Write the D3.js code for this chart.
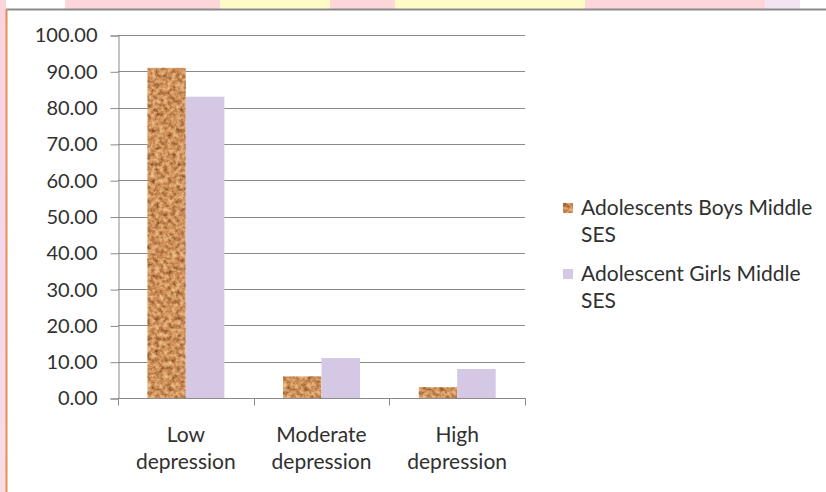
<!DOCTYPE html>
<html>
<head>
<meta charset="utf-8">
<script src="https://cdn.jsdelivr.net/npm/d3@7"></script>
<style>
  html, body { margin: 0; padding: 0; background: #ffffff; }
  svg { display: block; }
  text { font-family: Lato, "Open Sans", sans-serif; fill: #303030; }
</style>
</head>
<body>
<svg id="chart" width="826" height="492"></svg>
<script>
// Data
const categories = [["Low", "depression"], ["Moderate", "depression"], ["High", "depression"]];
const categoryKeys = ["Low depression", "Moderate depression", "High depression"];
const seriesNames = ["Adolescents Boys Middle SES", "Adolescent Girls Middle SES"];
const legendLines = [["Adolescents Boys Middle", "SES"], ["Adolescent Girls Middle", "SES"]];
const boysValues = [91, 6, 3];
const girlsValues = [83, 11, 8];
const yTicks = [0, 10, 20, 30, 40, 50, 60, 70, 80, 90, 100];

const svg = d3.select("#chart");
const W = 826, H = 492;

// Decorative page background around the chart frame
const bg = svg.append("g");
bg.append("rect").attr("width", W).attr("height", H).attr("fill", "#ffffff");
const bands = [
  [65, 220, "#fdd6da"], [220, 330, "#fefbc6"], [330, 395, "#fdd6da"],
  [395, 585, "#fefbc6"], [585, 765, "#fdd6da"], [765, 800, "#f3e4f3"]
];
bands.forEach(b => bg.append("rect").attr("x", b[0]).attr("y", 0)
  .attr("width", b[1] - b[0]).attr("height", 10).attr("fill", b[2]));
const lg = svg.append("defs").append("linearGradient").attr("id", "sideGrad")
  .attr("x1", 0).attr("x2", 0).attr("y1", 0).attr("y2", 1);
lg.append("stop").attr("offset", "0").attr("stop-color", "#fbd3dc");
lg.append("stop").attr("offset", "0.5").attr("stop-color", "#f4d6ee");
lg.append("stop").attr("offset", "1").attr("stop-color", "#fbdbe2");
bg.append("rect").attr("x", 0).attr("y", 0).attr("width", 6).attr("height", H).attr("fill", "url(#sideGrad)");

// Chart frame
const frame = svg.append("g");
frame.append("rect").attr("x", 7).attr("y", 10).attr("width", W).attr("height", H).attr("fill", "#ffffff");
frame.append("line").attr("x1", 6).attr("x2", W).attr("y1", 9.5).attr("y2", 9.5)
  .attr("stroke", "#8a8a8a").attr("stroke-width", 2);
frame.append("line").attr("x1", 6.5).attr("x2", 6.5).attr("y1", 9).attr("y2", H)
  .attr("stroke", "#dc925a").attr("stroke-width", 2);

// Textured fill for the boys series
const defs = svg.append("defs");
const f = defs.append("filter").attr("id", "cork").attr("x", 0).attr("y", 0)
  .attr("width", 1).attr("height", 1);
f.append("feTurbulence").attr("type", "fractalNoise").attr("baseFrequency", 0.24)
  .attr("numOctaves", 3).attr("seed", 7).attr("result", "noise");
f.append("feColorMatrix").attr("in", "noise").attr("type", "matrix")
  .attr("values", "0 0 0 0 0  0 0 0 0 0  0 0 0 0 0  -2.6 0 0 0 1.35")
  .attr("result", "dark");
f.append("feFlood").attr("flood-color", "#7e4519").attr("result", "brown");
f.append("feComposite").attr("in", "brown").attr("in2", "dark").attr("operator", "in").attr("result", "spots");
f.append("feColorMatrix").attr("in", "noise").attr("type", "matrix")
  .attr("values", "0 0 0 0 0  0 0 0 0 0  0 0 0 0 0  2.6 0 0 0 -1.3")
  .attr("result", "light");
f.append("feFlood").attr("flood-color", "#f4c994").attr("result", "cream");
f.append("feComposite").attr("in", "cream").attr("in2", "light").attr("operator", "in").attr("result", "hi");
f.append("feMerge").call(m => {
  m.append("feMergeNode").attr("in", "SourceGraphic");
  m.append("feMergeNode").attr("in", "spots");
  m.append("feMergeNode").attr("in", "hi");
});
f.append("feComposite").attr("in2", "SourceGraphic").attr("operator", "in");

// Scales
const plot = { left: 118, right: 525, top: 35, bottom: 398 };
const y = d3.scaleLinear().domain([0, 100]).range([plot.bottom, plot.top]);
const x0 = d3.scaleBand().domain(categoryKeys).range([plot.left, plot.right]).padding(0);
const x1 = d3.scaleBand().domain(seriesNames).range([0, x0.bandwidth()])
  .paddingInner(0).paddingOuter(0.76);
const colors = ["#d1925a", "#d4c8e4"];

// Gridlines
const g = svg.append("g");
g.append("g").selectAll("line").data(yTicks.filter(t => t > 0)).join("line")
  .attr("x1", plot.left).attr("x2", plot.right)
  .attr("y1", d => Math.round(y(d)) + 0.5).attr("y2", d => Math.round(y(d)) + 0.5)
  .attr("stroke", "#8a8a8a").attr("stroke-width", 1);

// Y axis
const yAxis = g.append("g").attr("transform", `translate(${plot.left + 0.5},0.5)`)
  .call(d3.axisLeft(y).tickValues(yTicks).tickFormat(d3.format(".2f")).tickSize(8).tickPadding(13));
yAxis.select(".domain").attr("stroke", "#8a8a8a");
yAxis.selectAll(".tick line").attr("stroke", "#8a8a8a");
yAxis.selectAll(".tick text").attr("font-size", 20).attr("fill", "#303030")
  .attr("font-family", "Lato, 'Open Sans', sans-serif");

// Bars
const rows = categoryKeys.map((c, i) => ({ key: c, vals: [boysValues[i], girlsValues[i]] }));
const groups = g.append("g").selectAll("g").data(rows).join("g")
  .attr("transform", d => `translate(${x0(d.key)},0)`);
groups.selectAll("rect").data(d => d.vals.map((v, j) => ({ s: seriesNames[j], v, j }))).join("rect")
  .attr("x", d => x1(d.s))
  .attr("y", d => y(d.v))
  .attr("width", x1.bandwidth())
  .attr("height", d => y(0) - y(d.v))
  .attr("fill", d => colors[d.j])
  .attr("filter", d => d.j === 0 ? "url(#cork)" : null);

// X axis
const xAxis = g.append("g").attr("transform", `translate(0,${plot.bottom + 0.5})`);
xAxis.append("line").attr("x1", plot.left).attr("x2", plot.right + 0.5)
  .attr("stroke", "#8a8a8a");
const boundaries = [plot.left].concat(categoryKeys.map(c => x0(c) + x0.bandwidth()));
xAxis.selectAll("line.tick").data(boundaries).join("line").attr("class", "tick")
  .attr("x1", d => Math.round(d) + 0.5).attr("x2", d => Math.round(d) + 0.5)
  .attr("y1", 0).attr("y2", 7).attr("stroke", "#8a8a8a");
const cat = xAxis.selectAll("text").data(categories).join("text")
  .attr("text-anchor", "middle").attr("font-size", 21)
  .attr("x", (d, i) => x0(categoryKeys[i]) + x0.bandwidth() / 2);
cat.selectAll("tspan").data(d => d).join("tspan")
  .attr("x", function () { return d3.select(this.parentNode).attr("x"); })
  .attr("y", (d, i) => 43 + i * 27)
  .text(d => d);

// Legend
const legend = svg.append("g").attr("transform", "translate(563,0)");
const legendY = [208, 274];
legendLines.forEach((lines, i) => {
  const item = legend.append("g").attr("transform", `translate(0,${legendY[i]})`);
  item.append("rect").attr("x", 0).attr("y", -5).attr("width", 10).attr("height", 10)
    .attr("fill", colors[i]).attr("filter", i === 0 ? "url(#cork)" : null);
  const t = item.append("text").attr("font-size", 21);
  t.selectAll("tspan").data(lines).join("tspan")
    .attr("x", 18).attr("y", (d, k) => 7 + k * 27).text(d => d);
});
</script>
</body>
</html>
